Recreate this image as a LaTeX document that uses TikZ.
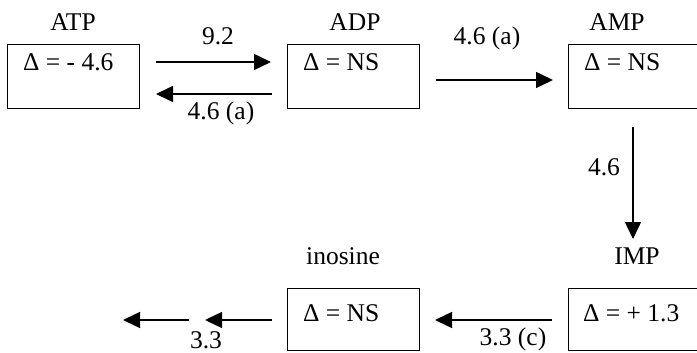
\documentclass[tikz,border=0pt]{standalone}
\usepackage{fontspec}
\setmainfont{Liberation Serif}
\usetikzlibrary{arrows.meta}
\begin{document}
\begin{tikzpicture}[x=1pt,y=-1pt, font=\fontsize{25.5}{30}\selectfont,
  box/.style={draw, line width=1.4pt, minimum width=132pt, minimum height=64pt, anchor=north west, inner sep=0pt},
  txt/.style={anchor=west, inner sep=0pt},
  lbl/.style={inner sep=0pt},
  arr/.style={line width=1.5pt, -{Triangle[length=17pt,width=16pt]}}]
\useasboundingbox (0,0) rectangle (697,353);
% boxes
\node[box] (atp) at (7,44) {};
\node[box] (adp) at (287,44) {};
\node[box] (amp) at (568,44) {};
\node[box, minimum height=62pt] (imp) at (568,288) {};
\node[box, minimum height=62pt] (ino) at (287,288) {};
% box texts
\node[txt] (atpt) at (23,62) {Δ = - 4.6};
\node[txt] (adpt) at (303,62) {Δ = NS};
\node[txt] (ampt) at (584,62) {Δ = NS};
\node[txt] (impt) at (583,313) {Δ = + 1.3};
\node[txt] (inot) at (303,313) {Δ = NS};
% names
\node[lbl] (atpl) at (73,22) {ATP};
\node[lbl] (adpl) at (355,22) {ADP};
\node[lbl] (ampl) at (617,22) {AMP};
\node[lbl] (impl) at (637,256) {IMP};
\node[lbl] (inol) at (343,256) {inosine};
% arrow ends
\coordinate (a1s) at (156,62);  \coordinate (a1e) at (271,62);
\coordinate (a2s) at (272,94);  \coordinate (a2e) at (156,94);
\coordinate (a3s) at (436,80);  \coordinate (a3e) at (553,80);
\coordinate (a4s) at (633,127); \coordinate (a4e) at (633,239);
\coordinate (a5s) at (552,320); \coordinate (a5e) at (435,320);
\coordinate (a6s) at (272,320); \coordinate (a6e) at (205,320);
\coordinate (a7s) at (189,320); \coordinate (a7e) at (123,320);
\draw[arr] (a1s) -- (a1e);
\draw[arr] (a2s) -- (a2e);
\draw[arr] (a3s) -- (a3e);
\draw[arr] (a4s) -- (a4e);
\draw[arr] (a5s) -- (a5e);
\draw[arr] (a6s) -- (a6e);
\draw[arr] (a7s) -- (a7e);
% arrow labels
\node[lbl] (l1) at (218,36) {9.2};
\node[lbl] (l2) at (221,113) {4.6 (a)};
\node[lbl] (l3) at (487,38) {4.6 (a)};
\node[lbl] (l4) at (604,167) {4.6};
\node[lbl] (l5) at (513,339) {3.3 (c)};
\node[lbl] (l6) at (206,340) {3.3};
\end{tikzpicture}
\end{document}
